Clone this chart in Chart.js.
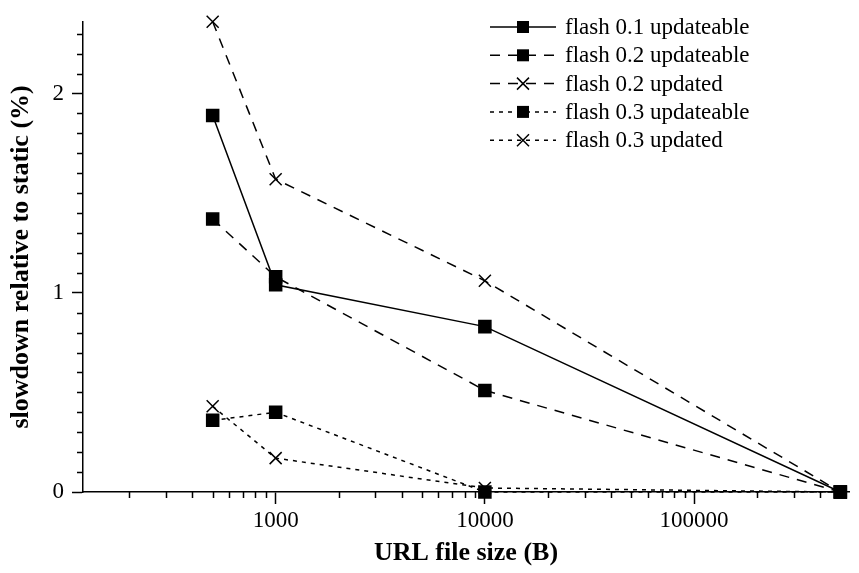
<!DOCTYPE html>
<html>
<head>
<meta charset="utf-8">
<script src="https://cdn.jsdelivr.net/npm/chart.js@4.4.1/dist/chart.umd.min.js"></script>
<style>
  html, body { margin: 0; padding: 0; background: #fff; }
</style>
</head>
<body>
<canvas id="slowdownChart" width="859" height="573"></canvas>
<script>
// --- data ---
const fileSizes = [500, 1000, 10000, 500000];
const seriesNames = [
  'flash 0.1 updateable',
  'flash 0.2 updateable',
  'flash 0.2 updated',
  'flash 0.3 updateable',
  'flash 0.3 updated'
];
const flash01Updateable = [1.89, 1.04, 0.83, 0.0];
const flash02Updateable = [1.37, 1.08, 0.51, 0.0];
const flash02Updated = [2.36, 1.57, 1.06, 0.0];
const flash03Updateable = [0.36, 0.40, 0.0, 0.0];
const flash03Updated = [0.43, 0.17, 0.02, 0.0];

const xMajorTicks = [1000, 10000, 100000];
const xMinorTicks = [200, 300, 400, 500, 600, 700, 800, 900,
  2000, 3000, 4000, 5000, 6000, 7000, 8000, 9000,
  20000, 30000, 40000, 50000, 60000, 70000, 80000, 90000,
  200000, 300000, 400000, 500000];
const yMajorTicks = [0, 1, 2];
const yMinorTicks = [0.1, 0.2, 0.3, 0.4, 0.5, 0.6, 0.7, 0.8, 0.9,
  1.1, 1.2, 1.3, 1.4, 1.5, 1.6, 1.7, 1.8, 1.9, 2.1, 2.2, 2.3];

const FONT = "'Liberation Serif', 'Times New Roman', serif";
const DASHED = [10, 8];
const DOTTED = [4, 5];

function toPoints(values) {
  return fileSizes.map((x, i) => ({ x: x, y: values[i] }));
}

function makeSeries(label, values, style, dash) {
  return {
    label: label,
    data: toPoints(values),
    borderColor: '#000',
    backgroundColor: '#000',
    borderWidth: 1.5,
    borderDash: dash,
    pointStyle: style,
    pointRadius: 8.5,
    pointBorderWidth: 1.5,
    pointBackgroundColor: '#000',
    pointBorderColor: '#000',
    tension: 0,
    clip: false
  };
}

const datasets = [
  makeSeries(seriesNames[0], flash01Updateable, 'rect', []),
  makeSeries(seriesNames[1], flash02Updateable, 'rect', DASHED),
  makeSeries(seriesNames[2], flash02Updated, 'crossRot', DASHED),
  makeSeries(seriesNames[3], flash03Updateable, 'rect', DOTTED),
  makeSeries(seriesNames[4], flash03Updated, 'crossRot', DOTTED)
];

// minor tick marks (short ones) drawn from the scales
const minorTickPlugin = {
  id: 'minorTicks',
  afterDraw(chart) {
    const { ctx, scales: { x, y } } = chart;
    ctx.save();
    ctx.strokeStyle = '#000';
    ctx.lineWidth = 1.5;
    ctx.beginPath();
    xMinorTicks.forEach((v) => {
      const px = Math.round(x.getPixelForValue(v)) + 0.5;
      ctx.moveTo(px, x.top);
      ctx.lineTo(px, x.top + 6);
    });
    yMinorTicks.forEach((v) => {
      const py = Math.round(y.getPixelForValue(v)) + 0.5;
      ctx.moveTo(y.right, py);
      ctx.lineTo(y.right - 6, py);
    });
    ctx.stroke();
    ctx.restore();
  }
};

// legend inside the plot, top right
const legendPlugin = {
  id: 'insideLegend',
  afterDraw(chart) {
    const ctx = chart.ctx;
    ctx.save();
    ctx.font = '23px ' + FONT;
    ctx.textBaseline = 'middle';
    ctx.fillStyle = '#000';
    chart.data.datasets.forEach((ds, i) => {
      const rowY = 27 + i * 28.3;
      ctx.strokeStyle = '#000';
      ctx.lineWidth = 1.5;
      ctx.setLineDash(ds.borderDash);
      ctx.beginPath();
      ctx.moveTo(490, rowY);
      ctx.lineTo(556, rowY);
      ctx.stroke();
      ctx.setLineDash([]);
      const mx = 523;
      if (ds.pointStyle === 'rect') {
        ctx.fillRect(mx - 6, rowY - 6, 12, 12);
      } else {
        ctx.lineWidth = 1.5;
        ctx.beginPath();
        ctx.moveTo(mx - 6, rowY - 6);
        ctx.lineTo(mx + 6, rowY + 6);
        ctx.moveTo(mx + 6, rowY - 6);
        ctx.lineTo(mx - 6, rowY + 6);
        ctx.stroke();
      }
      ctx.fillText(ds.label, 565, rowY + 1);
    });
    ctx.restore();
  }
};

new Chart(document.getElementById('slowdownChart'), {
  type: 'line',
  data: { datasets: datasets },
  plugins: [minorTickPlugin, legendPlugin],
  options: {
    responsive: false,
    animation: false,
    layout: { padding: { top: 12, right: 0, left: 0, bottom: 0 } },
    plugins: {
      legend: { display: false },
      tooltip: { enabled: false }
    },
    scales: {
      x: {
        type: 'logarithmic',
        min: 120,
        max: 550000,
        afterBuildTicks: (scale) => {
          scale.ticks = xMajorTicks.map((v) => ({ value: v }));
        },
        afterFit: (scale) => { scale.height = 81; },
        grid: {
          display: true,
          drawOnChartArea: false,
          drawTicks: true,
          tickLength: 12,
          tickWidth: 1.5,
          tickColor: '#000'
        },
        border: { display: true, color: '#000', width: 1.5 },
        ticks: {
          autoSkip: false,
          maxRotation: 0,
          padding: 3,
          color: '#000',
          font: { family: FONT, size: 23 },
          callback: (value) => String(value)
        },
        title: {
          display: true,
          text: 'URL file size (B)',
          color: '#000',
          font: { family: FONT, size: 26, weight: 'bold' },
          padding: { top: 0, bottom: 4 }
        }
      },
      y: {
        type: 'linear',
        min: 0,
        max: 2.36,
        afterBuildTicks: (scale) => {
          scale.ticks = yMajorTicks.map((v) => ({ value: v }));
        },
        afterFit: (scale) => { scale.width = 83; },
        grid: {
          display: true,
          drawOnChartArea: false,
          drawTicks: true,
          tickLength: 11,
          tickWidth: 1.5,
          tickColor: '#000'
        },
        border: { display: true, color: '#000', width: 1.5 },
        ticks: {
          padding: 8,
          color: '#000',
          font: { family: FONT, size: 23 },
          callback: (value) => String(value)
        },
        title: {
          display: true,
          text: 'slowdown relative to static (%)',
          color: '#000',
          font: { family: FONT, size: 26, weight: 'bold' },
          padding: { top: 6, bottom: 0 }
        }
      }
    }
  }
});
</script>
</body>
</html>
